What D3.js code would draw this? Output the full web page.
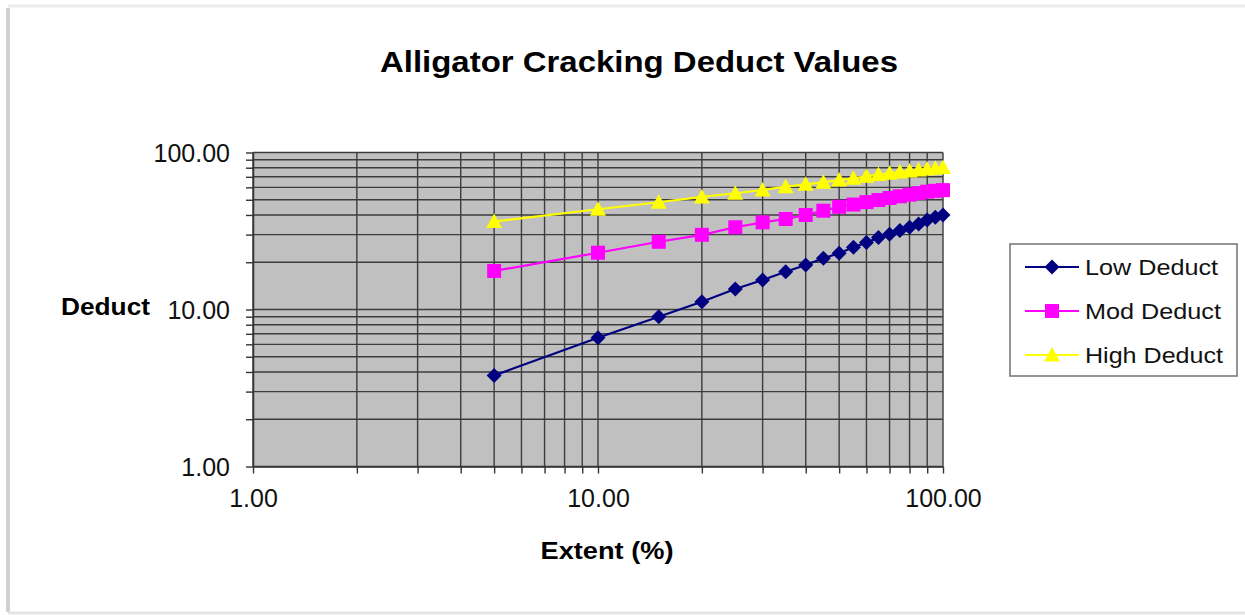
<!DOCTYPE html>
<html><head><meta charset="utf-8">
<script src="https://cdn.jsdelivr.net/npm/d3@7"></script>
<style>body{margin:0;background:#fff;}svg{display:block;font-family:"Liberation Sans",Arial,sans-serif;}</style>
</head><body>
<svg id="c" width="1245" height="615"></svg>
<script>
const extent = [5,10,15,20,25,30,35,40,45,50,55,60,65,70,75,80,85,90,95,100];
const lowDeduct  = [3.8,6.6,9.0,11.2,13.5,15.4,17.4,19.2,21.2,22.8,24.9,26.7,28.7,30.1,31.8,33.4,35.0,37.2,38.7,40.0];
const modDeduct  = [17.6,23.0,27.0,29.9,33.4,35.9,37.7,40.0,42.6,45.1,46.6,48.3,49.8,51.3,52.6,53.9,55.1,56.3,57.0,57.6];
const highDeduct = [36.3,43.5,48.2,52.1,55.0,57.7,60.6,62.7,64.6,66.8,68.5,70.5,72.3,73.8,75.1,76.3,77.4,78.5,79.3,80.3];
const seriesNames = ["Low Deduct","Mod Deduct","High Deduct"];
const seriesColors = ["#000080","#ff00ff","#ffff00"];
const majorTicks = [1,10,100];
const titleText = "Alligator Cracking Deduct Values";
const xTitle = "Extent (%)";
const yTitle = "Deduct";

const svg = d3.select("#c");
// outer frame
svg.append("line").attr("x1",8).attr("x2",8).attr("y1",8).attr("y2",612).attr("stroke","#d0d0d0").attr("stroke-width",4);
svg.append("line").attr("x1",8).attr("x2",1245).attr("y1",6).attr("y2",6).attr("stroke","#ececec").attr("stroke-width",3);
svg.append("line").attr("x1",8).attr("x2",1245).attr("y1",613).attr("y2",613).attr("stroke","#e4e4e4").attr("stroke-width",3);

const x = d3.scaleLog().domain([1,100]).range([253,943]);
const y = d3.scaleLog().domain([1,100]).range([466.5,152.5]);

// plot background
svg.append("rect").attr("x",x(1)).attr("y",y(100)).attr("width",x(100)-x(1)).attr("height",y(1)-y(100)).attr("fill","#c0c0c0");

const gridCol = "#3c3c3c";
const g = svg.append("g");
g.selectAll(".vg").data(x.ticks()).join("line")
  .attr("x1",d=>x(d)).attr("x2",d=>x(d)).attr("y1",y(100)).attr("y2",y(1))
  .attr("stroke",gridCol).attr("stroke-width",1.4);
g.selectAll(".hg").data(y.ticks()).join("line")
  .attr("y1",d=>y(d)).attr("y2",d=>y(d)).attr("x1",x(1)).attr("x2",x(100))
  .attr("stroke",gridCol).attr("stroke-width",1.4);

const fmt = d3.format(".2f");
const xAxis = d3.axisBottom(x).tickValues(x.ticks()).tickSize(7).tickSizeOuter(0)
  .tickFormat(d=>majorTicks.includes(d)?fmt(d):"");
const yAxis = d3.axisLeft(y).tickValues(y.ticks()).tickSize(7).tickSizeOuter(0)
  .tickFormat(d=>majorTicks.includes(d)?fmt(d):"");
const gx = svg.append("g").attr("transform",`translate(0,${y(1)})`).call(xAxis);
const gy = svg.append("g").attr("transform",`translate(${x(1)},0)`).call(yAxis);
[gx,gy].forEach(a=>{
  a.select(".domain").attr("stroke","#333").attr("stroke-width",1.5);
  a.selectAll(".tick line").attr("stroke","#333").attr("stroke-width",1.4);
  a.selectAll(".tick text").attr("fill","#111").style("font-size","25px").style("font-family","'Liberation Sans',Arial,sans-serif");
});
gx.selectAll(".tick text").attr("y",0).attr("dy",0).attr("transform","translate(0,40)");
gy.selectAll(".tick text").attr("x",-23).attr("dy","0.35em");

// titles
svg.append("text").attr("x",639).attr("y",72).attr("text-anchor","middle")
  .attr("textLength",518).attr("lengthAdjust","spacingAndGlyphs")
  .style("font-size","30px").style("font-weight","bold").attr("fill","#000").text(titleText);
svg.append("text").attr("x",607).attr("y",559).attr("text-anchor","middle")
  .attr("textLength",133).attr("lengthAdjust","spacingAndGlyphs")
  .style("font-size","24px").style("font-weight","bold").attr("fill","#000").text(xTitle);
svg.append("text").attr("x",61).attr("y",315)
  .attr("textLength",89).attr("lengthAdjust","spacingAndGlyphs")
  .style("font-size","24px").style("font-weight","bold").attr("fill","#000").text(yTitle);

// markers
const markers = [
  "M0,-7.5L7.5,0L0,7.5L-7.5,0Z",
  "M-7,-7L7,-7L7,7L-7,7Z",
  "M0,-8L8,6.5L-8,6.5Z"
];
const allSeries = [lowDeduct, modDeduct, highDeduct];
const line = d3.line().x(d=>x(d[0])).y(d=>y(d[1]));
allSeries.forEach((vals,i)=>{
  const pts = extent.map((e,j)=>[e,vals[j]]);
  svg.append("path").datum(pts).attr("d",line).attr("fill","none")
    .attr("stroke",seriesColors[i]).attr("stroke-width",2.2);
  svg.append("g").selectAll("path").data(pts).join("path")
    .attr("d",markers[i]).attr("transform",d=>`translate(${x(d[0])},${y(d[1])})`)
    .attr("fill",seriesColors[i]);
});

// legend
const lg = svg.append("g");
lg.append("rect").attr("x",1010).attr("y",244).attr("width",227).attr("height",132)
  .attr("fill","#fff").attr("stroke","#7a7a7a").attr("stroke-width",1.6);
const legW = [133,136,138];
seriesNames.forEach((n,i)=>{
  const cy = 267 + i*44;
  lg.append("line").attr("x1",1025).attr("x2",1079).attr("y1",cy).attr("y2",cy)
    .attr("stroke",seriesColors[i]).attr("stroke-width",2.2);
  lg.append("path").attr("d",markers[i]).attr("transform",`translate(1052,${cy})`).attr("fill",seriesColors[i]);
  lg.append("text").attr("x",1085).attr("y",cy+7.5)
    .attr("textLength",legW[i]).attr("lengthAdjust","spacingAndGlyphs")
    .style("font-size","22px").attr("fill","#111").text(n);
});
</script>
</body></html>
